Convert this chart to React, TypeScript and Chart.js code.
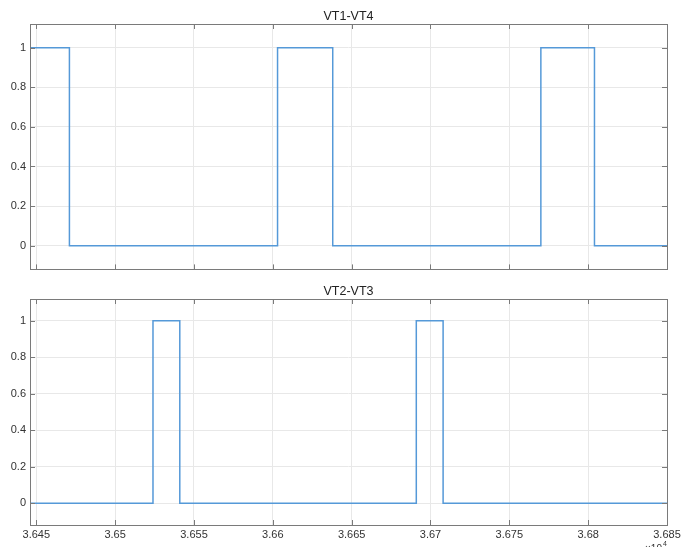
import React, { useEffect, useRef } from "react";
import { Chart, registerables } from "chart.js";
Chart.register(...registerables);

// ---- data ----
const xTicks = [3.645, 3.65, 3.655, 3.66, 3.665, 3.67, 3.675, 3.68, 3.685];
const xTickLabels = ["3.645", "3.65", "3.655", "3.66", "3.665", "3.67", "3.675", "3.68", "3.685"];
const yTicks = [0, 0.2, 0.4, 0.6, 0.8, 1];
const yTickLabels = ["0", "0.2", "0.4", "0.6", "0.8", "1"];
const xMin = 3.6446;
const xMax = 3.685;
const yMin = -0.12;
const yMax = 1.12;

const vt14Times = [3.6446, 3.6471, 3.6603, 3.6638, 3.677, 3.6804, 3.685];
const vt14Levels = [1, 0, 1, 0, 1, 0, 0];
const vt23Times = [3.6446, 3.6524, 3.6541, 3.6691, 3.6708, 3.685];
const vt23Levels = [0, 1, 0, 1, 0, 0];

const FONT = "'Liberation Sans', Arial, sans-serif";
const LINE_COLOR = "#5599d8";
const BOX_COLOR = "#7a7a7a";
const GRID_COLOR = "#e8e8e8";
const TEXT_COLOR = "#333333";

const matlabAxes = {
  id: "matlabAxes",
  afterDraw(chart: any, _args: any, opts: any) {
    const ctx = chart.ctx;
    const { left, right, top, bottom } = chart.chartArea;
    const xs = chart.scales.x;
    const ys = chart.scales.y;
    ctx.save();
    ctx.strokeStyle = BOX_COLOR;
    ctx.lineWidth = 1;
    ctx.strokeRect(Math.round(left) + 0.5, Math.round(top) + 0.5, Math.round(right - left), Math.round(bottom - top));
    const tl = 5;
    ctx.beginPath();
    xTicks.forEach((v) => {
      const px = Math.round(xs.getPixelForValue(v)) + 0.5;
      ctx.moveTo(px, bottom);
      ctx.lineTo(px, bottom - tl);
      ctx.moveTo(px, top);
      ctx.lineTo(px, top + tl);
    });
    yTicks.forEach((v) => {
      const py = Math.round(ys.getPixelForValue(v)) + 0.5;
      ctx.moveTo(left, py);
      ctx.lineTo(left + tl, py);
      ctx.moveTo(right, py);
      ctx.lineTo(right - tl, py);
    });
    ctx.stroke();
    // title
    ctx.fillStyle = "#222222";
    ctx.font = `12.5px ${FONT}`;
    ctx.textAlign = "center";
    ctx.textBaseline = "alphabetic";
    ctx.fillText(opts.title, (left + right) / 2, top - 4);
    if (opts.exponent) {
      ctx.fillStyle = TEXT_COLOR;
      ctx.textAlign = "left";
      ctx.textBaseline = "top";
      ctx.font = `10px ${FONT}`;
      ctx.fillText("\u00d710", 645, chart.height - 3);
      ctx.font = `7px ${FONT}`;
      ctx.fillText("4", 663, chart.height - 6);
    }
    ctx.restore();
  },
};

function makeConfig(times: number[], levels: number[], title: string, showXLabels: boolean, padTop: number, xHeight: number, exponent: boolean): any {
  const data = times.map((t, i) => ({ x: t, y: levels[i] }));
  return {
    type: "line",
    data: {
      datasets: [
        {
          data,
          stepped: "before",
          borderColor: LINE_COLOR,
          borderWidth: 1.5,
          pointRadius: 0,
          fill: false,
        },
      ],
    },
    options: {
      animation: false,
      responsive: false,
      devicePixelRatio: 1,
      layout: { padding: { left: 0, right: 17, top: padTop, bottom: 0 } },
      plugins: {
        legend: { display: false },
        tooltip: { enabled: false },
        matlabAxes: { title, exponent },
      },
      scales: {
        x: {
          type: "linear",
          min: xMin,
          max: xMax,
          afterBuildTicks: (s: any) => {
            s.ticks = xTicks.map((v) => ({ value: v }));
          },
          afterFit: (s: any) => {
            s.height = xHeight;
          },
          grid: { color: GRID_COLOR, drawTicks: false, lineWidth: 1 },
          border: { display: false },
          ticks: {
            display: showXLabels,
            padding: 3,
            maxRotation: 0,
            autoSkip: false,
            color: TEXT_COLOR,
            font: { family: FONT, size: 11 },
            callback: (v: any) => {
              const i = xTicks.findIndex((t) => Math.abs(t - v) < 1e-7);
              return i >= 0 ? xTickLabels[i] : "";
            },
          },
        },
        y: {
          type: "linear",
          min: yMin,
          max: yMax,
          afterBuildTicks: (s: any) => {
            s.ticks = yTicks.map((v) => ({ value: v }));
          },
          afterFit: (s: any) => {
            s.width = 30;
          },
          grid: { color: GRID_COLOR, drawTicks: false, lineWidth: 1 },
          border: { display: false },
          ticks: {
            padding: 4,
            autoSkip: false,
            color: TEXT_COLOR,
            font: { family: FONT, size: 11 },
            callback: (v: any) => {
              const i = yTicks.findIndex((t) => Math.abs(t - v) < 1e-7);
              return i >= 0 ? yTickLabels[i] : "";
            },
          },
        },
      },
    },
    plugins: [matlabAxes],
  };
}

export default function App() {
  const ref1 = useRef<HTMLCanvasElement>(null);
  const ref2 = useRef<HTMLCanvasElement>(null);
  useEffect(() => {
    const c1 = new Chart(ref1.current as HTMLCanvasElement, makeConfig(vt14Times, vt14Levels, "VT1-VT4", false, 24, 8, false));
    const c2 = new Chart(ref2.current as HTMLCanvasElement, makeConfig(vt23Times, vt23Levels, "VT2-VT3", true, 19, 22, true));
    return () => {
      c1.destroy();
      c2.destroy();
    };
  }, []);
  return (
    <div style={{ position: "absolute", left: 0, top: 0, width: 684, height: 547, background: "#ffffff", overflow: "hidden" }}>
      <canvas ref={ref1} width={684} height={280} style={{ position: "absolute", left: 0, top: 0, width: 684, height: 280 }} />
      <canvas ref={ref2} width={684} height={267} style={{ position: "absolute", left: 0, top: 280, width: 684, height: 267 }} />
    </div>
  );
}
